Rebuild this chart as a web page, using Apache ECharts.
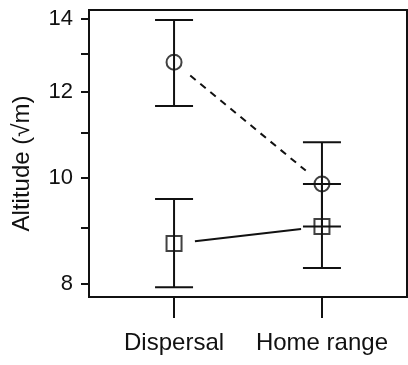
<!DOCTYPE html>
<html>
<head>
<meta charset="utf-8">
<script src="https://cdn.jsdelivr.net/npm/echarts@6/dist/echarts.min.js"></script>
<style>
  html, body { margin: 0; padding: 0; background: #fff; }
  #chart { width: 408px; height: 365px; }
</style>
</head>
<body>
<div id="chart"></div>
<script>
// groups on the x axis
const groups = ['Dispersal', 'Home range']
const groupPos = [1, 2]

// circle series (dashed line)
const circleMean = [12.78, 9.88]
const circleLow = [11.65, 9.03]
const circleHigh = [13.97, 10.79]

// square series (solid line)
const squareMean = [8.71, 9.03]
const squareLow = [7.94, 8.27]
const squareHigh = [9.57, 9.88]

// y axis ticks
const yLabels = [8, 10, 12, 14]
const yTicks = [8, 9, 10, 11, 12, 13, 14]

const ink = '#111'
const font = 'Liberation Sans, Arial, sans-serif'

function errData(low, high) {
  return groupPos.map((x, i) => [x, low[i], high[i]])
}

function segData(mean) {
  const out = []
  for (let i = 0; i < groupPos.length - 1; i++) {
    out.push([groupPos[i], mean[i], groupPos[i + 1], mean[i + 1]])
  }
  return out
}

function renderErr(params, api) {
  const lo = api.coord([api.value(0), api.value(1)])
  const hi = api.coord([api.value(0), api.value(2)])
  const cap = 19
  const style = { stroke: ink, lineWidth: 2 }
  return {
    type: 'group',
    children: [
      { type: 'line', shape: { x1: lo[0], y1: lo[1], x2: hi[0], y2: hi[1] }, style },
      { type: 'line', shape: { x1: lo[0] - cap, y1: lo[1], x2: lo[0] + cap, y2: lo[1] }, style },
      { type: 'line', shape: { x1: hi[0] - cap, y1: hi[1], x2: hi[0] + cap, y2: hi[1] }, style }
    ]
  }
}

// line between means, leaving a gap round the markers
function makeSeg(dash) {
  return function(params, api) {
    const a = api.coord([api.value(0), api.value(1)])
    const b = api.coord([api.value(2), api.value(3)])
    const dx = b[0] - a[0]
    const dy = b[1] - a[1]
    const len = Math.sqrt(dx * dx + dy * dy)
    const gap = 21
    const ux = dx / len
    const uy = dy / len
    return {
      type: 'line',
      shape: {
        x1: a[0] + ux * gap, y1: a[1] + uy * gap,
        x2: b[0] - ux * gap, y2: b[1] - uy * gap
      },
      style: { stroke: ink, lineWidth: 2, lineDash: dash }
    }
  }
}

const chart = echarts.init(document.getElementById('chart'))

chart.setOption({
  animation: false,
  backgroundColor: '#fff',
  grid: {
    left: 89,
    right: 1,
    top: 10,
    bottom: 68,
    show: true,
    borderColor: ink,
    borderWidth: 2
  },
  xAxis: {
    type: 'value',
    min: 0.425,
    max: 2.575,
    axisLine: { show: false },
    splitLine: { show: false },
    axisTick: {
      show: true,
      length: 21,
      customValues: groupPos,
      lineStyle: { color: ink, width: 2 }
    },
    axisLabel: {
      customValues: groupPos,
      margin: 34,
      fontSize: 24,
      fontFamily: font,
      color: ink,
      formatter: v => groups[Math.round(v) - 1]
    }
  },
  yAxis: {
    type: 'log',
    logBase: 10,
    min: 7.78,
    max: 14.27,
    name: 'Altitude (√m)',
    nameLocation: 'middle',
    nameRotate: 90,
    nameGap: 55,
    nameTextStyle: { fontSize: 24, fontFamily: font, color: ink, padding: [0, 20, 0, 0] },
    axisLine: { show: true, lineStyle: { color: ink, width: 2 } },
    splitLine: { show: false },
    axisTick: {
      show: true,
      length: 8,
      customValues: yTicks,
      lineStyle: { color: ink, width: 2 }
    },
    axisLabel: {
      customValues: yLabels,
      margin: 16,
      fontSize: 22,
      fontFamily: font,
      color: ink
    }
  },
  series: [
    {
      type: 'custom',
      renderItem: renderErr,
      data: errData(circleLow, circleHigh),
      encode: { x: 0, y: [1, 2] },
      z: 2
    },
    {
      type: 'custom',
      renderItem: renderErr,
      data: errData(squareLow, squareHigh),
      encode: { x: 0, y: [1, 2] },
      z: 2
    },
    {
      type: 'custom',
      renderItem: makeSeg([7, 6]),
      data: segData(circleMean),
      encode: { x: [0, 2], y: [1, 3] },
      z: 2
    },
    {
      type: 'custom',
      renderItem: makeSeg(null),
      data: segData(squareMean),
      encode: { x: [0, 2], y: [1, 3] },
      z: 2
    },
    {
      type: 'scatter',
      symbol: 'circle',
      symbolSize: 15,
      data: groupPos.map((x, i) => [x, circleMean[i]]),
      itemStyle: { color: 'rgba(0,0,0,0)', borderColor: ink, borderWidth: 2 },
      z: 3
    },
    {
      type: 'scatter',
      symbol: 'rect',
      symbolSize: 15,
      data: groupPos.map((x, i) => [x, squareMean[i]]),
      itemStyle: { color: 'rgba(0,0,0,0)', borderColor: ink, borderWidth: 2 },
      z: 3
    }
  ]
})
</script>
</body>
</html>
